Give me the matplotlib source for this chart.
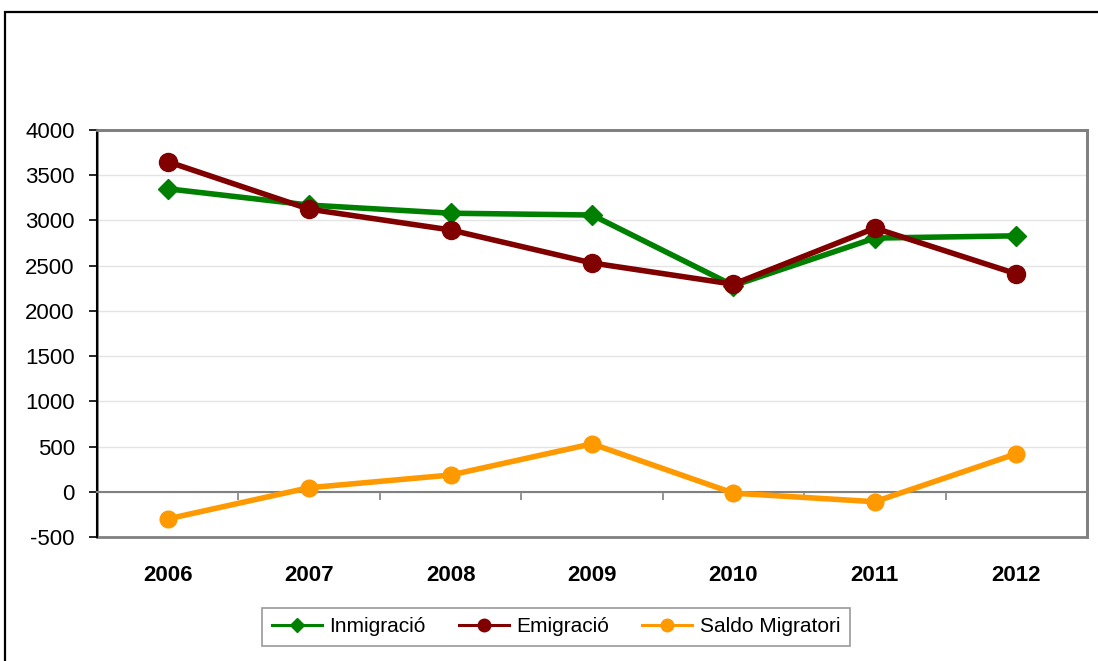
import numpy as np
import matplotlib
matplotlib.use('Agg')
import matplotlib.pyplot as plt
from matplotlib.lines import Line2D
from matplotlib.patches import Rectangle

# Chart data
years = ['2006', '2007', '2008', '2009', '2010', '2011', '2012']
inmigracio = [3350, 3170, 3080, 3060, 2280, 2805, 2830]
emigracio = [3650, 3125, 2895, 2530, 2295, 2915, 2410]
saldo = [-300, 45, 185, 530, -15, -110, 420]

green = '#008000'
darkred = '#800000'
orange = '#FF9900'

plt.rcParams['font.family'] = ['Liberation Sans', 'DejaVu Sans']
plt.rcParams['axes.unicode_minus'] = False

fig = plt.figure(figsize=(10.98, 6.61), dpi=100)
ax = fig.add_axes([97 / 1098, 1 - 537 / 661, 990 / 1098, 407 / 661])

x = np.arange(len(years))
ax.plot(x, inmigracio, color=green, lw=4, marker='D', ms=10, zorder=4)
ax.plot(x, emigracio, color=darkred, lw=4, marker='o', ms=13, zorder=5)
ax.plot(x, saldo, color=orange, lw=4, marker='o', ms=12, zorder=4)

ax.set_xlim(-0.5, len(years) - 0.5)
ax.set_ylim(-500, 4000)
ax.set_yticks(np.arange(-500, 4001, 500))
ax.grid(axis='y', color='#E4E4E4', lw=1)
ax.set_axisbelow(True)

# x axis crosses at zero, with ticks between categories
ax.spines['bottom'].set_position(('data', 0))
ax.spines['bottom'].set_color('#808080')
ax.spines['bottom'].set_linewidth(1.5)
ax.set_xticks(x)
ax.set_xticklabels(years, fontweight='bold', fontsize=16)
ax.set_xticks(np.arange(-0.5, len(years)), minor=True)
ax.tick_params(axis='x', which='major', length=0, pad=53)
ax.tick_params(axis='x', which='minor', length=6, color='#808080', width=1.2, direction='out')

for s in ['top', 'right']:
    ax.spines[s].set_color('#808080')
    ax.spines[s].set_linewidth(2)
ax.spines['left'].set_color('black')
ax.spines['left'].set_linewidth(1.5)
ax.tick_params(axis='y', length=6, width=1.2, labelsize=16, pad=10)

# bottom border of plot area
ax.add_patch(Rectangle((0, 0), 1, 1, transform=ax.transAxes, fill=False,
                       edgecolor='#808080', lw=2, zorder=1, clip_on=False))

handles = [
    Line2D([], [], color=green, lw=2.2, marker='D', ms=7),
    Line2D([], [], color=darkred, lw=2.2, marker='o', ms=9),
    Line2D([], [], color=orange, lw=2.2, marker='o', ms=9),
]
leg = fig.legend(handles, ['Inmigració', 'Emigració', 'Saldo Migratori'],
                 loc='center', bbox_to_anchor=(556 / 1098, 1 - 627 / 661),
                 ncol=3, fontsize=15, frameon=True, fancybox=False,
                 edgecolor='#808080', handlelength=2.4, columnspacing=1.6,
                 handletextpad=0.35, borderpad=0.45, borderaxespad=0)
leg.get_frame().set_linewidth(1.2)

# outer chart frame
fig.patches.append(Rectangle((5 / 1098, -0.05), 1.1, 1 - 12 / 661 + 0.05,
                             transform=fig.transFigure, fill=False,
                             edgecolor='black', lw=1.6))

fig.savefig('out.png', dpi=100)
